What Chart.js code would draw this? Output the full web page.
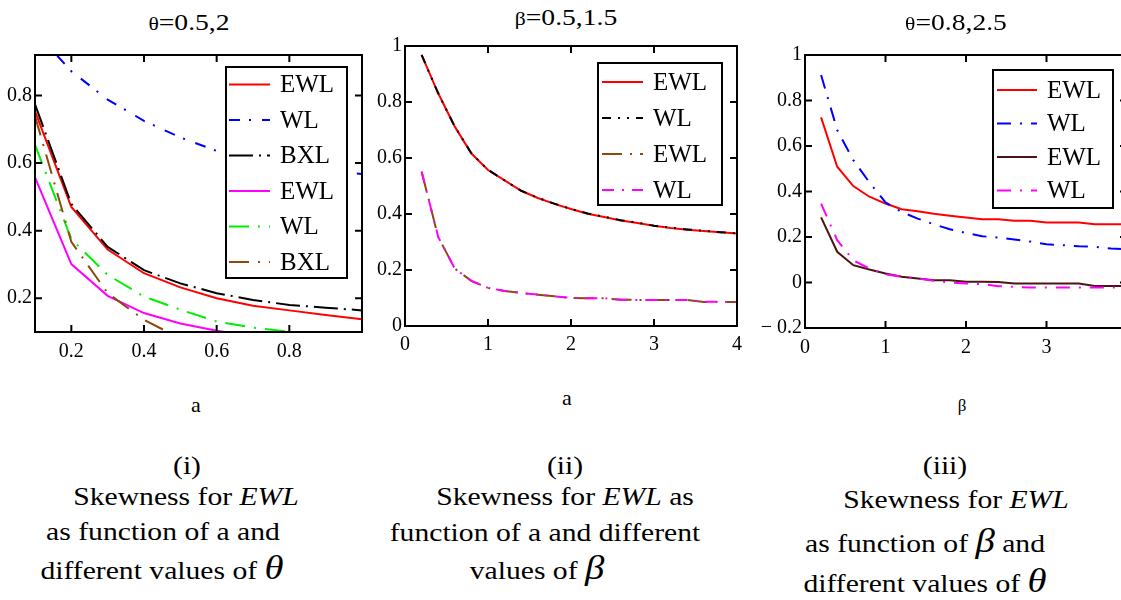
<!DOCTYPE html>
<html>
<head>
<meta charset="utf-8">
<script src="https://cdn.jsdelivr.net/npm/chart.js@4.4.1/dist/chart.umd.min.js"></script>
<style>
html, body { margin: 0; padding: 0; background: #fff; }
body { width: 1121px; height: 600px; overflow: hidden; position: relative; font-family: 'Liberation Serif', serif; color: #000; }
canvas { position: absolute; }
.t { position: absolute; white-space: nowrap; line-height: 1; font-family: 'Liberation Serif', serif; transform: translate(-50%, -50%); }
.head { font-size: 23px; transform: translate(-50%, -50%) scaleX(1.2); }
.head .gr { font-size: 18px; }
.ax { font-size: 22px; }
.cap { font-size: 26px; transform: translate(-50%, -50%) scaleX(1.14); }
.cap i.g { font-size: 34px; }
</style>
</head>
<body>
<canvas id="c1" width="370" height="320" style="left:0;top:40px"></canvas>
<canvas id="c2" width="380" height="330" style="left:370px;top:30px"></canvas>
<canvas id="c3" width="390" height="330" style="left:750px;top:30px"></canvas>

<div class="t head" style="left:189px;top:22px"><span class="gr">θ</span>=0.5,2</div>
<div class="t head" style="left:566px;top:17px"><span class="gr">β</span>=0.5,1.5</div>
<div class="t head" style="left:956px;top:22px"><span class="gr">θ</span>=0.8,2.5</div>

<div class="t ax" style="left:196px;top:405px">a</div>
<div class="t ax" style="left:567px;top:398px">a</div>
<div class="t ax" style="left:962px;top:405px;font-size:17px">β</div>

<div class="t cap" style="left:187px;top:466px">(i)</div>
<div class="t cap" style="left:186px;top:497px">Skewness for <i>EWL</i></div>
<div class="t cap" style="left:163px;top:532px">as function of a and</div>
<div class="t cap" style="left:162px;top:568px">different values of <i class="g">θ</i></div>

<div class="t cap" style="left:565px;top:466px">(ii)</div>
<div class="t cap" style="left:565px;top:497px">Skewness for <i>EWL</i> as</div>
<div class="t cap" style="left:545px;top:533px">function of a and different</div>
<div class="t cap" style="left:537px;top:568px">values of <i class="g">β</i></div>

<div class="t cap" style="left:945px;top:466px">(iii)</div>
<div class="t cap" style="left:956px;top:500px">Skewness for <i>EWL</i></div>
<div class="t cap" style="left:925px;top:541px">as function of <i class="g">β</i> and</div>
<div class="t cap" style="left:925px;top:581px">different values of <i class="g">θ</i></div>

<script>
// panel (i): skewness vs a, theta = 0.5 and 2
const p1X = [0.1, 0.2, 0.3, 0.4, 0.5, 0.6, 0.7, 0.8, 0.9, 1.0];
const p1EwlT05 = [0.754, 0.470, 0.344, 0.274, 0.232, 0.200, 0.178, 0.164, 0.150, 0.138];
const p1WlT05  = [0.990, 0.872, 0.788, 0.725, 0.676, 0.636, 0.610, 0.592, 0.578, 0.568];
const p1BxlT05 = [0.774, 0.479, 0.352, 0.283, 0.244, 0.215, 0.195, 0.180, 0.172, 0.164];
const p1EwlT2  = [0.558, 0.301, 0.207, 0.156, 0.125, 0.104, 0.088, 0.076, 0.066, 0.058];
const p1WlT2   = [0.654, 0.375, 0.269, 0.205, 0.166, 0.131, 0.113, 0.101, 0.090, 0.082];
const p1BxlT2  = [0.739, 0.367, 0.215, 0.136, 0.081, 0.050, 0.030, 0.015, 0.005, -0.005];
const p1XTicks = [0.2, 0.4, 0.6, 0.8];
const p1YTicks = [0.2, 0.4, 0.6, 0.8];

// panel (ii): skewness vs a, beta = 0.5 and 1.5
const p2X = [0.2, 0.4, 0.6, 0.8, 1.0, 1.2, 1.4, 1.6, 1.8, 2.0, 2.2, 2.4, 2.6, 2.8, 3.0, 3.2, 3.4, 3.6, 3.8, 4.0];
const p2EwlB05 = [0.968, 0.831, 0.712, 0.616, 0.557, 0.520, 0.483, 0.457, 0.436, 0.418, 0.401, 0.389, 0.377, 0.368, 0.358, 0.350, 0.344, 0.339, 0.335, 0.330];
const p2WlB05  = [0.968, 0.831, 0.712, 0.617, 0.558, 0.520, 0.483, 0.458, 0.437, 0.418, 0.402, 0.390, 0.378, 0.369, 0.358, 0.351, 0.345, 0.340, 0.335, 0.331];
const p2EwlB15 = [0.551, 0.318, 0.205, 0.161, 0.136, 0.125, 0.118, 0.112, 0.106, 0.100, 0.099, 0.099, 0.094, 0.093, 0.093, 0.093, 0.093, 0.086, 0.086, 0.086];
const p2WlB15  = [0.552, 0.318, 0.205, 0.161, 0.136, 0.125, 0.118, 0.112, 0.106, 0.101, 0.099, 0.099, 0.094, 0.093, 0.093, 0.093, 0.093, 0.087, 0.086, 0.086];
const p2XTicks = [0, 1, 2, 3, 4];
const p2YTicks = [0, 0.2, 0.4, 0.6, 0.8, 1];

// panel (iii): skewness vs beta, theta = 0.8 and 2.5
const p3X = [0.2, 0.4, 0.6, 0.8, 1.0, 1.2, 1.4, 1.6, 1.8, 2.0, 2.2, 2.4, 2.6, 2.8, 3.0, 3.2, 3.4, 3.6, 3.8, 4.0];
const p3EwlT08 = [0.726, 0.509, 0.424, 0.377, 0.347, 0.322, 0.313, 0.302, 0.293, 0.286, 0.278, 0.278, 0.271, 0.271, 0.264, 0.264, 0.264, 0.256, 0.256, 0.256];
const p3WlT08  = [0.912, 0.670, 0.538, 0.440, 0.352, 0.310, 0.281, 0.256, 0.234, 0.218, 0.203, 0.198, 0.189, 0.180, 0.168, 0.164, 0.159, 0.157, 0.149, 0.147];
const p3EwlT25 = [0.286, 0.135, 0.076, 0.057, 0.040, 0.025, 0.018, 0.010, 0.010, 0.003, 0.003, 0.002, -0.004, -0.004, -0.004, -0.004, -0.004, -0.015, -0.015, -0.015];
const p3WlT25  = [0.347, 0.186, 0.098, 0.061, 0.036, 0.026, 0.018, 0.008, 0.000, -0.004, -0.007, -0.016, -0.019, -0.022, -0.022, -0.022, -0.022, -0.022, -0.022, -0.022];
const p3XTicks = [0, 1, 2, 3, 4];
const p3YTicks = [-0.2, 0, 0.2, 0.4, 0.6, 0.8, 1];

const FONT = '"Liberation Serif", serif';

// box around the plot area with small inward tick marks on all four sides
const frameTicks = {
    id: 'frameTicks',
    afterDatasetsDraw(chart) {
        const { ctx, chartArea: a } = chart;
        const len = 7;
        ctx.save();
        ctx.strokeStyle = '#000';
        ctx.lineWidth = 2;
        ctx.setLineDash([]);
        ctx.beginPath();
        chart.scales.x.ticks.forEach(t => {
            const px = chart.scales.x.getPixelForValue(t.value);
            if (px <= a.left + 1 || px >= a.right - 1) return;
            ctx.moveTo(px, a.bottom); ctx.lineTo(px, a.bottom - len);
            ctx.moveTo(px, a.top); ctx.lineTo(px, a.top + len);
        });
        chart.scales.y.ticks.forEach(t => {
            const py = chart.scales.y.getPixelForValue(t.value);
            if (py <= a.top + 1 || py >= a.bottom - 1) return;
            ctx.moveTo(a.left, py); ctx.lineTo(a.left + len, py);
            ctx.moveTo(a.right, py); ctx.lineTo(a.right - len, py);
        });
        ctx.stroke();
        ctx.strokeRect(a.left, a.top, a.right - a.left, a.bottom - a.top);
        ctx.restore();
    }
};

// boxed legend drawn inside the plot (Mathcad style)
const boxLegend = {
    id: 'boxLegend',
    afterDraw(chart, args, o) {
        const ctx = chart.ctx;
        ctx.save();
        ctx.fillStyle = '#fff';
        ctx.fillRect(o.x, o.y, o.w, o.h);
        ctx.strokeStyle = '#000';
        ctx.lineWidth = 2;
        ctx.strokeRect(o.x, o.y, o.w, o.h);
        ctx.font = '25px ' + FONT;
        ctx.textBaseline = 'middle';
        chart.data.datasets.forEach((ds, i) => {
            const cy = o.y + o.first + i * o.step;
            ctx.beginPath();
            ctx.setLineDash(ds.borderDash || []);
            ctx.strokeStyle = ds.borderColor;
            ctx.lineWidth = 2;
            ctx.moveTo(o.x + o.s0, cy);
            ctx.lineTo(o.x + o.s1, cy);
            ctx.stroke();
            ctx.setLineDash([]);
            ctx.fillStyle = '#000';
            ctx.fillText(ds.label, o.x + o.tx, cy + 1);
        });
        ctx.restore();
    }
};

function series(label, xs, ys, color, dash, order) {
    return {
        label,
        data: xs.map((x, i) => ({ x, y: ys[i] })),
        borderColor: color,
        borderDash: dash,
        borderWidth: 2,
        pointRadius: 0,
        tension: 0,
        fill: false,
        order
    };
}

function fmt(v) {
    return v < 0 ? '\u2212 ' + Math.abs(v) : String(v);
}

function makeChart(id, datasets, xr, yr, xTicks, yTicks, box) {
    return new Chart(document.getElementById(id), {
        type: 'line',
        data: { datasets },
        plugins: [frameTicks, boxLegend],
        options: {
            responsive: false,
            animation: false,
            events: [],
            layout: { padding: box.pad },
            plugins: {
                legend: { display: false },
                tooltip: { enabled: false },
                boxLegend: box.legend
            },
            scales: {
                x: {
                    type: 'linear',
                    min: xr[0],
                    max: xr[1],
                    afterBuildTicks: s => { s.ticks = xTicks.map(v => ({ value: v })); },
                    afterFit: s => { s.height = box.xh; },
                    grid: { display: false, drawTicks: false },
                    border: { display: false },
                    ticks: {
                        autoSkip: false,
                        maxRotation: 0,
                        padding: box.xpad,
                        color: '#000',
                        font: { family: FONT, size: 20 },
                        callback: v => fmt(v)
                    }
                },
                y: {
                    type: 'linear',
                    min: yr[0],
                    max: yr[1],
                    afterBuildTicks: s => { s.ticks = yTicks.map(v => ({ value: v })); },
                    afterFit: s => { s.width = box.yw; },
                    grid: { display: false, drawTicks: false },
                    border: { display: false },
                    ticks: {
                        autoSkip: false,
                        padding: 3,
                        color: '#000',
                        font: { family: FONT, size: 20 },
                        callback: v => fmt(v)
                    }
                }
            }
        }
    });
}

makeChart('c1', [
    series('EWL', p1X, p1EwlT05, '#ff0000', [], 6),
    series('WL',  p1X, p1WlT05,  '#0000ff', [11, 9, 2, 11], 5),
    series('BXL', p1X, p1BxlT05, '#000000', [24, 6, 2, 6], 4),
    series('EWL', p1X, p1EwlT2,  '#ff00ff', [], 3),
    series('WL',  p1X, p1WlT2,   '#00ee00', [20, 9, 2, 9], 2),
    series('BXL', p1X, p1BxlT2,  '#8b4a10', [20, 9, 2, 9], 1)
], [0.1, 1.0], [0.1, 0.92], p1XTicks, p1YTicks, {
    pad: { left: 0, right: 8, top: 12, bottom: 0 },
    yw: 35, xh: 28, xpad: 8,
    legend: { x: 226, y: 27, w: 121, h: 211, first: 17.5, step: 35.5, s0: 3, s1: 44, tx: 54 }
});

makeChart('c2', [
    series('EWL', p2X, p2EwlB05, '#ff0000', [], 4),
    series('WL',  p2X, p2WlB05,  '#000000', [9, 7, 2, 7, 2, 7], 3),
    series('EWL', p2X, p2EwlB15, '#8b4a10', [20, 8, 2, 8], 2),
    series('WL',  p2X, p2WlB15,  '#ff00ff', [12, 8, 2, 8], 1)
], [0, 4], [0, 1], p2XTicks, p2YTicks, {
    pad: { left: 0, right: 13, top: 16, bottom: 0 },
    yw: 35, xh: 34, xpad: 7,
    legend: { x: 228, y: 33, w: 124, h: 142, first: 19, step: 36, s0: 4, s1: 45, tx: 55 }
});

makeChart('c3', [
    series('EWL', p3X, p3EwlT08, '#ff0000', [], 4),
    series('WL',  p3X, p3WlT08,  '#0000ff', [14, 9, 2, 9], 3),
    series('EWL', p3X, p3EwlT25, '#4a1414', [], 2),
    series('WL',  p3X, p3WlT25,  '#ff00ff', [14, 9, 2, 9], 1)
], [0, 4], [-0.2, 1], p3XTicks, p3YTicks, {
    pad: { left: 0, right: 12, top: 25, bottom: 0 },
    yw: 55, xh: 32, xpad: 8,
    legend: { x: 243, y: 40, w: 120, h: 138, first: 20, step: 33.5, s0: 4, s1: 44, tx: 54 }
});
</script>
</body>
</html>
